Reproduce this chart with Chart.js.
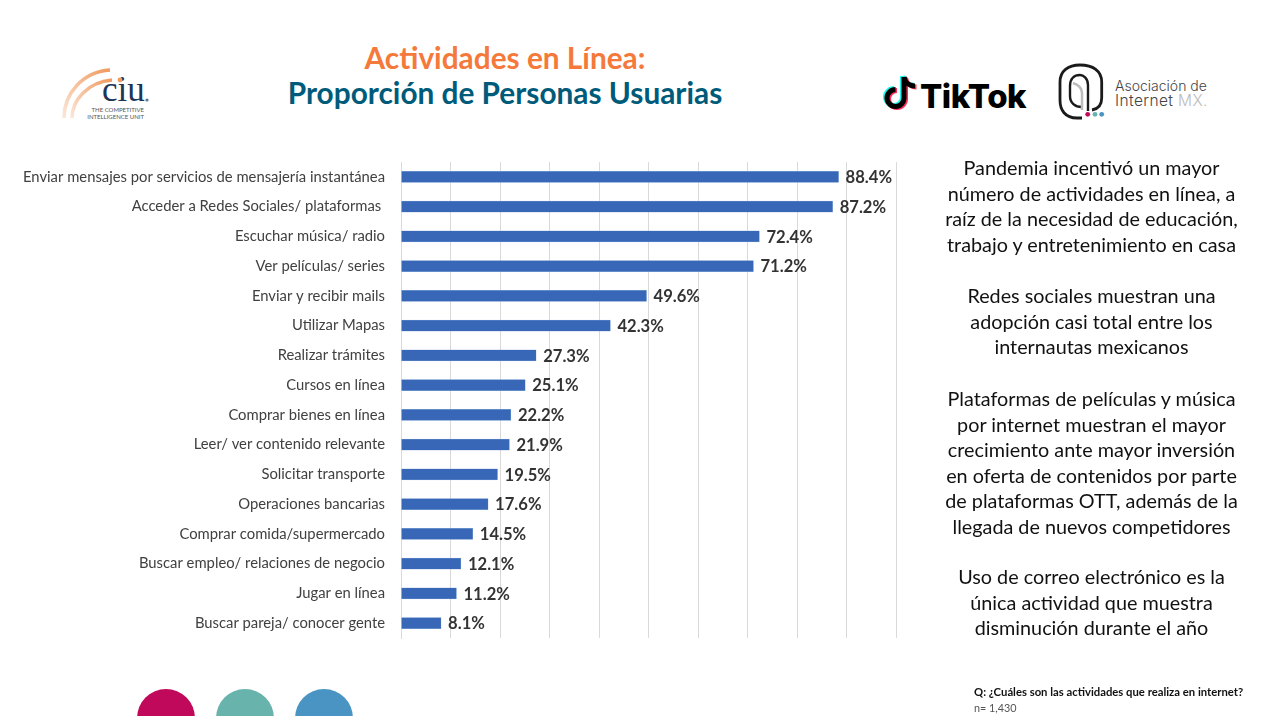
<!DOCTYPE html>
<html lang="es">
  <head>
    <meta charset="UTF-8" />
    <title>Actividades en Línea</title>
    <script src="https://cdn.jsdelivr.net/npm/chart.js"></script>
    <style>
      html, body { margin: 0; padding: 0; background: #fff; }
      body { position: relative; width: 1278px; height: 716px; overflow: hidden; font-family: Lato, sans-serif; }
      canvas { position: absolute; left: 0; top: 0; }
      .abs { position: absolute; white-space: nowrap; }
      .title { left: 205px; width: 600px; text-align: center; font-weight: 700; font-size: 29.8px; line-height: 35px; }
      .side { left: 921.5px; width: 340px; text-align: center; font-size: 19.8px; line-height: 25.6px; color: #111; }
      .dot { position: absolute; top: 689px; width: 58px; height: 58px; border-radius: 50%; }
    </style>
  </head>
  <body>
    <div class="abs title" style="top: 40px; color: #f4793a">Actividades en Línea:</div>
    <div class="abs title" style="top: 75px; color: #005b7a">Proporción de Personas Usuarias</div>

    <!-- CIU logo -->
    <svg class="abs" style="left: 50px; top: 60px" width="110" height="70">
      <defs>
        <linearGradient id="arc" x1="0" y1="1" x2="1" y2="0">
          <stop offset="0" stop-color="#fbe6d8" />
          <stop offset="1" stop-color="#f09a60" />
        </linearGradient>
      </defs>
      <path d="M14 58 C14 34 32 12 60 10" fill="none" stroke="url(#arc)" stroke-width="3.5" />
      <path d="M22 58 C22 40 38 22 62 20" fill="none" stroke="url(#arc)" stroke-width="3.5" />
      <text x="52" y="41" font-family="Liberation Serif" font-size="35" fill="#1d3557">ciu</text>
      <circle cx="70" cy="20" r="2.4" fill="#f09a60" />
      <circle cx="97" cy="40" r="1.6" fill="#5a7a9a" />
      <text x="94" y="51.5" text-anchor="end" font-family="Lato" font-size="6" fill="#555">THE COMPETITIVE</text>
      <text x="94" y="58.5" text-anchor="end" font-family="Lato" font-size="6" fill="#555">INTELLIGENCE UNIT</text>
    </svg>

    <!-- TikTok logo -->
    <svg class="abs" style="left: 880px; top: 67.5px" width="155" height="50">
      <g fill="none" stroke-width="5">
        <path d="M24 9 V30 A8.5 8.5 0 1 1 15.5 21.5" stroke="#25f4ee" transform="translate(-1.5,-1)" />
        <path d="M24 9 C25 15 30 18 35 18" stroke="#25f4ee" transform="translate(-1.5,-1)" />
        <path d="M24 9 V30 A8.5 8.5 0 1 1 15.5 21.5" stroke="#fe2c55" transform="translate(1.5,1)" />
        <path d="M24 9 C25 15 30 18 35 18" stroke="#fe2c55" transform="translate(1.5,1)" />
        <path d="M24 9 V30 A8.5 8.5 0 1 1 15.5 21.5" stroke="#000" />
        <path d="M24 9 C25 15 30 18 35 18" stroke="#000" />
      </g>
      <text x="40" y="39.5" font-family="Inter, Roboto" font-weight="800" font-size="33" letter-spacing="-0.5" fill="#000">TikTok</text>
    </svg>

    <!-- Asociacion de Internet logo -->
    <svg class="abs" style="left: 1055px; top: 60px" width="170" height="62">
      <path d="M27 58 H22 C10 58 5 50 5 40 V22 C5 11 13 5 25 5 C38 5 46.7 11 46.7 22 V38 C46.7 45 43 49 37 50" fill="none" stroke="#1a1a1a" stroke-width="2.8" />
      <path d="M33 51 V25 C33 18 28 15 25 15 C19 15 15 19 15 26 V36 C15 43 20 47 27 47" fill="none" stroke="#1a1a1a" stroke-width="2.4" />
      <path d="M18 23 C24 25 27 28 27 33 V50" fill="none" stroke="#bbb" stroke-width="2.5" />
      <circle cx="32.7" cy="54.3" r="2.4" fill="#c0095a" />
      <circle cx="40" cy="54.3" r="2.4" fill="#69b3ad" />
      <circle cx="46.7" cy="54.3" r="2.4" fill="#4a94c4" />
      <text x="60" y="31" font-family="Inter" font-weight="300" font-size="14" fill="#444">Asociación de</text>
      <text x="60" y="45.5" font-family="Inter" font-weight="300" font-size="15.5" letter-spacing="0.4" fill="#444">Internet <tspan fill="#bbb">MX.</tspan></text>
    </svg>

    <canvas id="chart" width="1278" height="716"></canvas>

    <div class="abs side" style="top: 155px">Pandemia incentivó un mayor<br />número de actividades en línea, a<br />raíz de la necesidad de educación,<br />trabajo y entretenimiento en casa</div>
    <div class="abs side" style="top: 283px">Redes sociales muestran una<br />adopción casi total entre los<br />internautas mexicanos</div>
    <div class="abs side" style="top: 386px">Plataformas de películas y música<br />por internet muestran el mayor<br />crecimiento ante mayor inversión<br />en oferta de contenidos por parte<br />de plataformas OTT, además de la<br />llegada de nuevos competidores</div>
    <div class="abs side" style="top: 564px">Uso de correo electrónico es la<br />única actividad que muestra<br />disminución durante el año</div>

    <div class="abs" style="left: 974px; top: 685px; font-size: 11.3px; font-weight: 700; color: #111">Q: ¿Cuáles son las actividades que realiza en internet?</div>
    <div class="abs" style="left: 974px; top: 701px; font-size: 10.8px; color: #555">n= 1,430</div>

    <div class="dot" style="left: 136.5px; background: #c0095a"></div>
    <div class="dot" style="left: 215.5px; background: #69b3ad"></div>
    <div class="dot" style="left: 294.5px; background: #4a94c4"></div>

    <script>
      const categories = [
        "Enviar mensajes por servicios de mensajería instantánea",
        "Acceder a Redes Sociales/ plataformas ",
        "Escuchar música/ radio",
        "Ver películas/ series",
        "Enviar y recibir mails",
        "Utilizar Mapas",
        "Realizar trámites",
        "Cursos en línea",
        "Comprar bienes en línea",
        "Leer/ ver contenido relevante",
        "Solicitar transporte",
        "Operaciones bancarias",
        "Comprar comida/supermercado",
        "Buscar empleo/ relaciones de negocio",
        "Jugar en línea",
        "Buscar pareja/ conocer gente",
      ];
      const shares = [88.4, 87.2, 72.4, 71.2, 49.6, 42.3, 27.3, 25.1, 22.2, 21.9, 19.5, 17.6, 14.5, 12.1, 11.2, 8.1];

      // Writes the percentage just past the end of each bar.
      const valueLabels = {
        id: "valueLabels",
        afterDatasetsDraw(chart) {
          const ctx = chart.ctx;
          ctx.save();
          ctx.font = "700 16.6px Lato";
          ctx.fillStyle = "#333333";
          ctx.textBaseline = "middle";
          chart.getDatasetMeta(0).data.forEach((bar, i) => {
            ctx.fillText(shares[i].toFixed(1) + "%", bar.x + 7, bar.y + 1);
          });
          ctx.restore();
        },
      };

      new Chart(document.getElementById("chart"), {
        type: "bar",
        data: {
          labels: categories,
          datasets: [
            {
              data: shares,
              backgroundColor: "#3767b6",
              borderColor: "#8fb0de",
              borderWidth: 0.5,
              barThickness: 11,
            },
          ],
        },
        options: {
          indexAxis: "y",
          responsive: false,
          animation: false,
          layout: { padding: { top: 162, bottom: 78, right: 382, left: 0 } },
          plugins: { legend: { display: false }, tooltip: { enabled: false } },
          scales: {
            x: {
              min: 0,
              max: 100,
              ticks: { display: false, stepSize: 10 },
              grid: { color: "#d9d9d9", lineWidth: 1, drawTicks: false },
              border: { display: false },
            },
            y: {
              afterFit: (axis) => { axis.width = 401; },
              ticks: { color: "#404040", font: { family: "Lato", size: 14.8 }, padding: 8, autoSkip: false },
              grid: { display: false },
              border: { color: "#d9d9d9" },
            },
          },
        },
        plugins: [valueLabels],
      });
    </script>
  </body>
</html>
